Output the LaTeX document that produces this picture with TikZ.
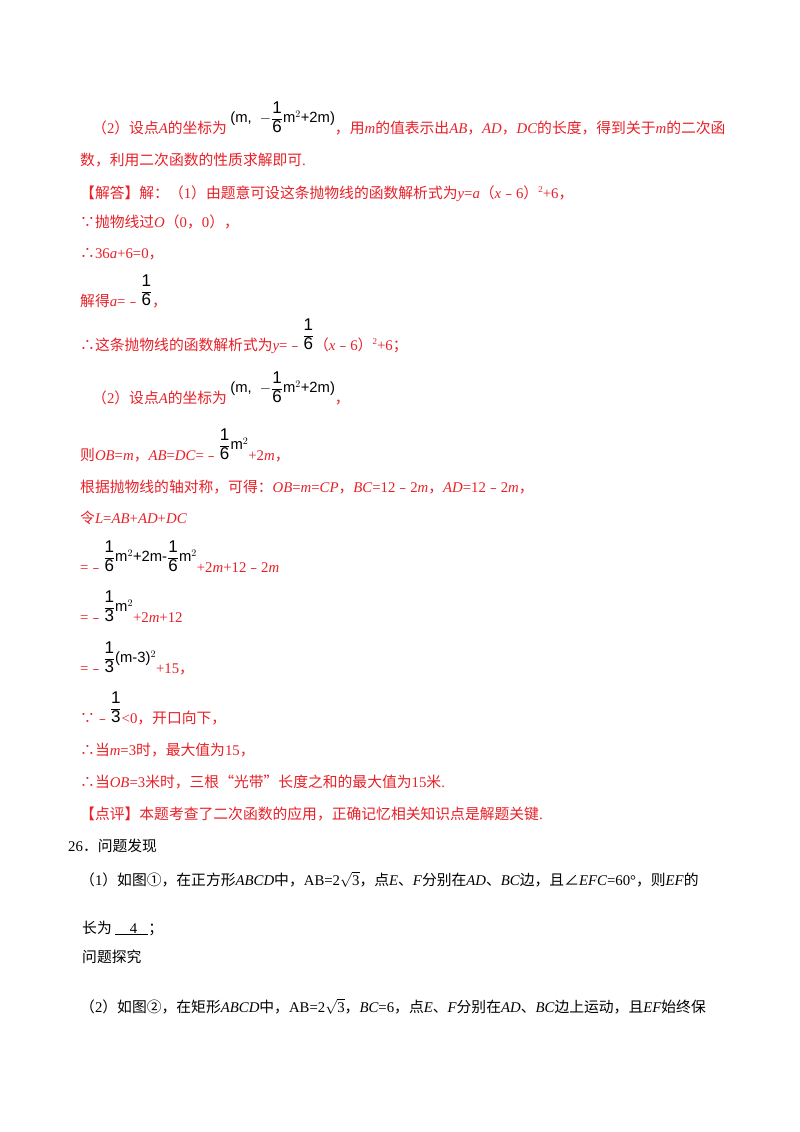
\documentclass[tikz,border=0pt]{standalone}
\usepackage{fontspec}
\setmainfont{Noto Sans CJK SC}
\newfontfamily\lt{Liberation Serif}
\newfontfamily\ls{Liberation Sans}
\definecolor{rd}{RGB}{232,32,40}
\newcommand{\li}[1]{{\lt\itshape #1}}
\newcommand{\lr}[1]{{\lt #1}}
\newcommand{\img}[1]{\raisebox{\depth}{\color{black}\ls #1}}
\newcommand{\fr}[2]{$\displaystyle\frac{\hbox{\ls\fontsize{17}{17}\selectfont #1}}{\hbox{\ls\fontsize{17}{17}\selectfont #2}}$}
\tikzset{ln/.style={anchor=base west,inner sep=0pt,font=\fontsize{14.8}{17}\selectfont,text=rd},
bk/.style={ln,text=black}}
\begin{document}
\begin{tikzpicture}[x=1pt,y=1pt]
\useasboundingbox (0,0) rectangle (800,-1132);
\fill[white] (0,0) rectangle (800,-1132);
\node[ln] (l1) at (92,-133) {（\lr{2}）设点\li{A}的坐标为 \img{(m,\ \ $-$\fr{1}{6}m$^{2}$+2m)}，用\li{m}的值表示出\li{AB}，\li{AD}，\li{DC}的长度，得到关于\li{m}的二次函};
\node[ln] (l2) at (80,-165) {数，利用二次函数的性质求解即可\lr{.}};
\node[ln] (l3) at (80,-198) {【解答】解：（\lr{1}）由题意可设这条抛物线的函数解析式为\li{y}\lr{=}\li{a}（\li{x}﹣\lr{6}）\raisebox{6pt}{\fontsize{9}{9}\selectfont\lr{2}}\lr{+6}，};
\node[ln] (l4) at (80,-227) {∵抛物线过\li{O}（\lr{0}，\lr{0}），};
\node[ln] (l5) at (80,-258) {∴\lr{36}\li{a}\lr{+6=0}，};
\node[ln] (l6) at (80,-306) {解得\li{a}\lr{=}﹣\img{\fr{1}{6}}，};
\node[ln] (l7) at (80,-350) {∴这条抛物线的函数解析式为\li{y}\lr{=}﹣\img{\fr{1}{6}}（\li{x}﹣\lr{6}）\raisebox{6pt}{\fontsize{9}{9}\selectfont\lr{2}}\lr{+6}；};
\node[ln] (l8) at (92,-403) {（\lr{2}）设点\li{A}的坐标为 \img{(m,\ \ $-$\fr{1}{6}m$^{2}$+2m)}，};
\node[ln] (l9) at (80,-460) {则\li{OB}\lr{=}\li{m}，\li{AB}\lr{=}\li{DC}\lr{=}﹣\img{\fr{1}{6}m$^{2}$}\lr{+2}\li{m}，};
\node[ln] (l10) at (80,-492) {根据抛物线的轴对称，可得：\li{OB}\lr{=}\li{m}\lr{=}\li{CP}，\li{BC}\lr{=12}﹣\lr{2}\li{m}，\li{AD}\lr{=12}﹣\lr{2}\li{m}，};
\node[ln] (l11) at (80,-523) {令\li{L}\lr{=}\li{AB}\lr{+}\li{AD}\lr{+}\li{DC}};
\node[ln] (l12) at (80,-572) {\lr{=}﹣\img{\fr{1}{6}m$^{2}$+2m-\fr{1}{6}m$^{2}$}\lr{+2}\li{m}\lr{+12}﹣\lr{2}\li{m}};
\node[ln] (l13) at (80,-622) {\lr{=}﹣\img{\fr{1}{3}m$^{2}$}\lr{+2}\li{m}\lr{+12}};
\node[ln] (l14) at (80,-673) {\lr{=}﹣\img{\fr{1}{3}(m-3)$^{2}$}\lr{+15}，};
\node[ln] (l15) at (80,-723) {∵﹣\img{\fr{1}{3}}\lr{<0}，开口向下，};
\node[ln] (l16) at (80,-755) {∴当\li{m}\lr{=3}时，最大值为\lr{15}，};
\node[ln] (l17) at (80,-787) {∴当\li{OB}\lr{=3}米时，三根“光带”长度之和的最大值为\lr{15}米\lr{.}};
\node[ln] (l18) at (80,-819) {【点评】本题考查了二次函数的应用，正确记忆相关知识点是解题关键\lr{.}};
\node[bk] (l19) at (68,-851) {\lr{26}．问题发现};
\node[bk] (l20) at (80,-885) {（\lr{1}）如图①，在正方形\li{ABCD}中，\lr{AB=2$\sqrt{\hbox{3}}$}，点\li{E}、\li{F}分别在\li{AD}、\li{BC}边，且∠\li{EFC}\lr{=60°}，则\li{EF}的};
\node[bk] (l21) at (82,-933) {长为 \underline{\lr{\ \ \ \ 4\ \ \ }}；};
\node[bk] (l22) at (82,-962) {问题探究};
\node[bk] (l23) at (80,-1012) {（\lr{2}）如图②，在矩形\li{ABCD}中，\lr{AB=2$\sqrt{\hbox{3}}$}，\li{BC}\lr{=6}，点\li{E}、\li{F}分别在\li{AD}、\li{BC}边上运动，且\li{EF}始终保};
\end{tikzpicture}
\end{document}
